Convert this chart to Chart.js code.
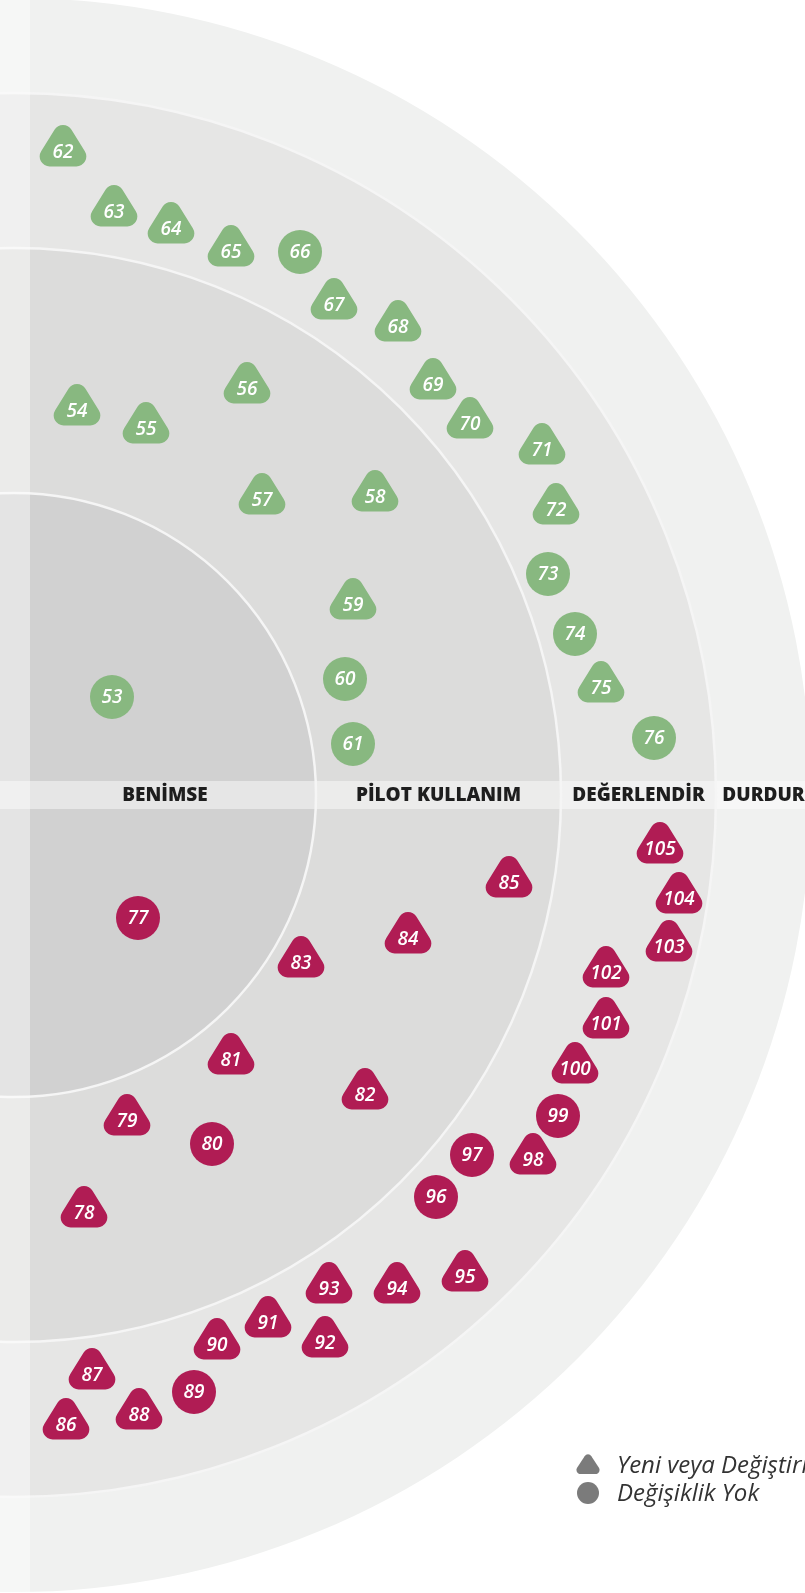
<!DOCTYPE html>
<html>
<head>
<meta charset="utf-8">
<script src="https://cdn.jsdelivr.net/npm/chart.js@4.4.1/dist/chart.umd.min.js"></script>
<style>
  html, body { margin: 0; padding: 0; background: #fff; overflow: hidden; }
  #wrap { width: 805px; height: 1593px; position: relative; }
</style>
</head>
<body>
<div id="wrap"><canvas id="radarChart"></canvas></div>
<script>
// ring names and outer radius of each ring (chart units = px from the radar centre)
const rings = ["BENİMSE", "PİLOT KULLANIM", "DEĞERLENDİR", "DURDUR"];
const ringRadius = [302, 547, 702, 797];

const legendLabels = ["Yeni veya Değiştirildi", "Değişiklik Yok"];

// upper half (green)
const greenIds = [53, 54, 55, 56, 57, 58, 59, 60, 61, 62, 63, 64, 65, 66, 67, 68, 69, 70, 71, 72, 73, 74, 75, 76];
const greenX   = [98, 63, 132, 233, 248, 361, 339, 331, 339, 49, 100, 157, 217, 286, 320, 384, 419, 456, 528, 542, 534, 561, 587, 640];
const greenY   = [98, 384, 366, 406, 295, 298, 190, 116, 51, 643, 583, 566, 543, 543, 490, 468, 410, 371, 345, 285, 221, 161, 107, 57];
const greenNew = [0, 1, 1, 1, 1, 1, 1, 0, 0, 1, 1, 1, 1, 0, 1, 1, 1, 1, 1, 1, 0, 0, 1, 0];

// lower half (magenta)
const redIds = [77, 78, 79, 80, 81, 82, 83, 84, 85, 86, 87, 88, 89, 90, 91, 92, 93, 94, 95, 96, 97, 98, 99, 100, 101, 102, 103, 104, 105];
const redX   = [124, 70, 113, 198, 217, 351, 287, 394, 495, 52, 78, 125, 180, 203, 254, 311, 315, 383, 451, 422, 458, 519, 544, 561, 592, 592, 655, 665, 646];
const redY   = [-123, -418, -326, -349, -265, -300, -168, -144, -88, -630, -580, -620, -597, -550, -528, -548, -494, -494, -482, -402, -360, -365, -321, -274, -229, -178, -152, -104, -54];
const redNew = [0, 1, 1, 0, 1, 1, 1, 1, 1, 1, 1, 1, 0, 1, 1, 1, 1, 1, 1, 0, 0, 1, 0, 1, 1, 1, 1, 1, 1];

const GREEN = "#88b880";
const RED = "#b01c54";

function roundTri(g, cx, top, bottom, w, r) {
    // sharp corners pushed out so the rounded shape keeps the wanted box
    const ax = cx, ay = top - r;
    const bx = cx - w / 2 - 0.73 * r, cxr = cx + w / 2 + 0.73 * r;
    g.beginPath();
    g.moveTo(cx, bottom);
    g.arcTo(cxr, bottom, ax, ay, r);
    g.arcTo(ax, ay, bx, bottom, r);
    g.arcTo(bx, bottom, cxr, bottom, r);
    g.closePath();
    g.fill();
}

function makeMarker(isNew, color) {
    const c = document.createElement("canvas");
    c.width = 58;
    c.height = 60;
    const g = c.getContext("2d");
    g.fillStyle = color;
    if (isNew) {
        // text point sits ~64% down the triangle
        roundTri(g, 29, 4, 44.5, 48, 10);
    } else {
        g.beginPath();
        g.arc(29, 30, 22, 0, Math.PI * 2);
        g.fill();
    }
    return c;
}

const markers = {
    g1: makeMarker(1, GREEN), g0: makeMarker(0, GREEN),
    r1: makeMarker(1, RED), r0: makeMarker(0, RED)
};

function points(xs, ys, ids) {
    return xs.map((x, i) => ({ x: x, y: ys[i], id: ids[i] }));
}

const radarBackground = {
    id: "radarBackground",
    beforeDatasetsDraw(chart) {
        const ctx = chart.ctx;
        const xs = chart.scales.x, ys = chart.scales.y;
        const ox = xs.getPixelForValue(0), oy = ys.getPixelForValue(0);
        const fills = ["#d1d1d1", "#dcdcdb", "#e6e6e5", "#f0f1f0"];
        ctx.save();
        for (let i = ringRadius.length - 1; i >= 0; i--) {
            const r = xs.getPixelForValue(ringRadius[i]) - ox;
            ctx.beginPath();
            ctx.arc(ox, oy, r, 0, Math.PI * 2);
            ctx.fillStyle = fills[i];
            ctx.fill();
        }
        // band across the centre line
        ctx.fillStyle = "rgba(255,255,255,0.45)";
        ctx.fillRect(0, oy - 14, chart.width, 28);
        ctx.strokeStyle = "#f5f5f5";
        ctx.lineWidth = 2.5;
        for (let i = 0; i < ringRadius.length - 1; i++) {
            const r = xs.getPixelForValue(ringRadius[i]) - ox;
            ctx.beginPath();
            ctx.arc(ox, oy, r, 0, Math.PI * 2);
            ctx.stroke();
        }
        // pale strip on the left edge
        ctx.fillStyle = "rgba(255,255,255,0.42)";
        ctx.fillRect(0, 0, 30, chart.height);

        ctx.fillStyle = "#1e1e1e";
        ctx.font = "800 19px 'Open Sans', sans-serif";
        ctx.textAlign = "center";
        ctx.textBaseline = "middle";
        let inner = 0;
        rings.forEach((name, i) => {
            const mid = (inner + ringRadius[i]) / 2;
            ctx.fillText(name, xs.getPixelForValue(mid), oy + 1);
            inner = ringRadius[i];
        });
        ctx.restore();
    }
};

const blipLabels = {
    id: "blipLabels",
    afterDatasetsDraw(chart) {
        const ctx = chart.ctx;
        ctx.save();
        ctx.fillStyle = "#ffffff";
        ctx.font = "italic 600 19px 'Open Sans', sans-serif";
        ctx.textAlign = "center";
        ctx.textBaseline = "middle";
        chart.data.datasets.forEach((ds, di) => {
            chart.getDatasetMeta(di).data.forEach((el, i) => {
                ctx.fillText(String(ds.data[i].id), el.x, el.y + 1);
            });
        });
        ctx.restore();
    }
};

const shapeLegend = {
    id: "shapeLegend",
    afterDraw(chart) {
        const ctx = chart.ctx;
        const left = chart.chartArea.right - 217;
        const top = chart.chartArea.bottom - 126;
        ctx.save();
        ctx.fillStyle = "#7b7b7b";
        roundTri(ctx, left, top - 12, top + 7, 24, 4);
        ctx.beginPath();
        ctx.arc(left, top + 26, 11, 0, Math.PI * 2);
        ctx.fill();
        ctx.fillStyle = "#333333";
        ctx.font = "italic 400 24px 'Open Sans', sans-serif";
        ctx.textAlign = "left";
        ctx.textBaseline = "middle";
        ctx.fillText(legendLabels[0], left + 29, top - 1);
        ctx.fillText(legendLabels[1], left + 29, top + 27);
        ctx.restore();
    }
};

const CHART = document.getElementById("radarChart");

let radarChart = new Chart(CHART, {
    type: "scatter",
    data: {
        datasets: [
            {
                label: "Üst",
                data: points(greenX, greenY, greenIds),
                pointStyle: greenNew.map(n => n ? markers.g1 : markers.g0),
                pointRadius: 22,
                backgroundColor: GREEN,
                borderWidth: 0
            }, {
                label: "Alt",
                data: points(redX, redY, redIds),
                pointStyle: redNew.map(n => n ? markers.r1 : markers.r0),
                pointRadius: 22,
                backgroundColor: RED,
                borderWidth: 0
            }
        ]
    },
    options: {
        responsive: true,
        maintainAspectRatio: false,
        animation: false,
        events: [],
        layout: { padding: 0, autoPadding: false },
        scales: {
            x: { type: "linear", min: -14, max: 791, display: false },
            y: { type: "linear", min: -798, max: 795, display: false }
        },
        plugins: {
            legend: { display: false },
            tooltip: { enabled: false }
        }
    },
    plugins: [radarBackground, blipLabels, shapeLegend]
});
</script>
</body>
</html>
